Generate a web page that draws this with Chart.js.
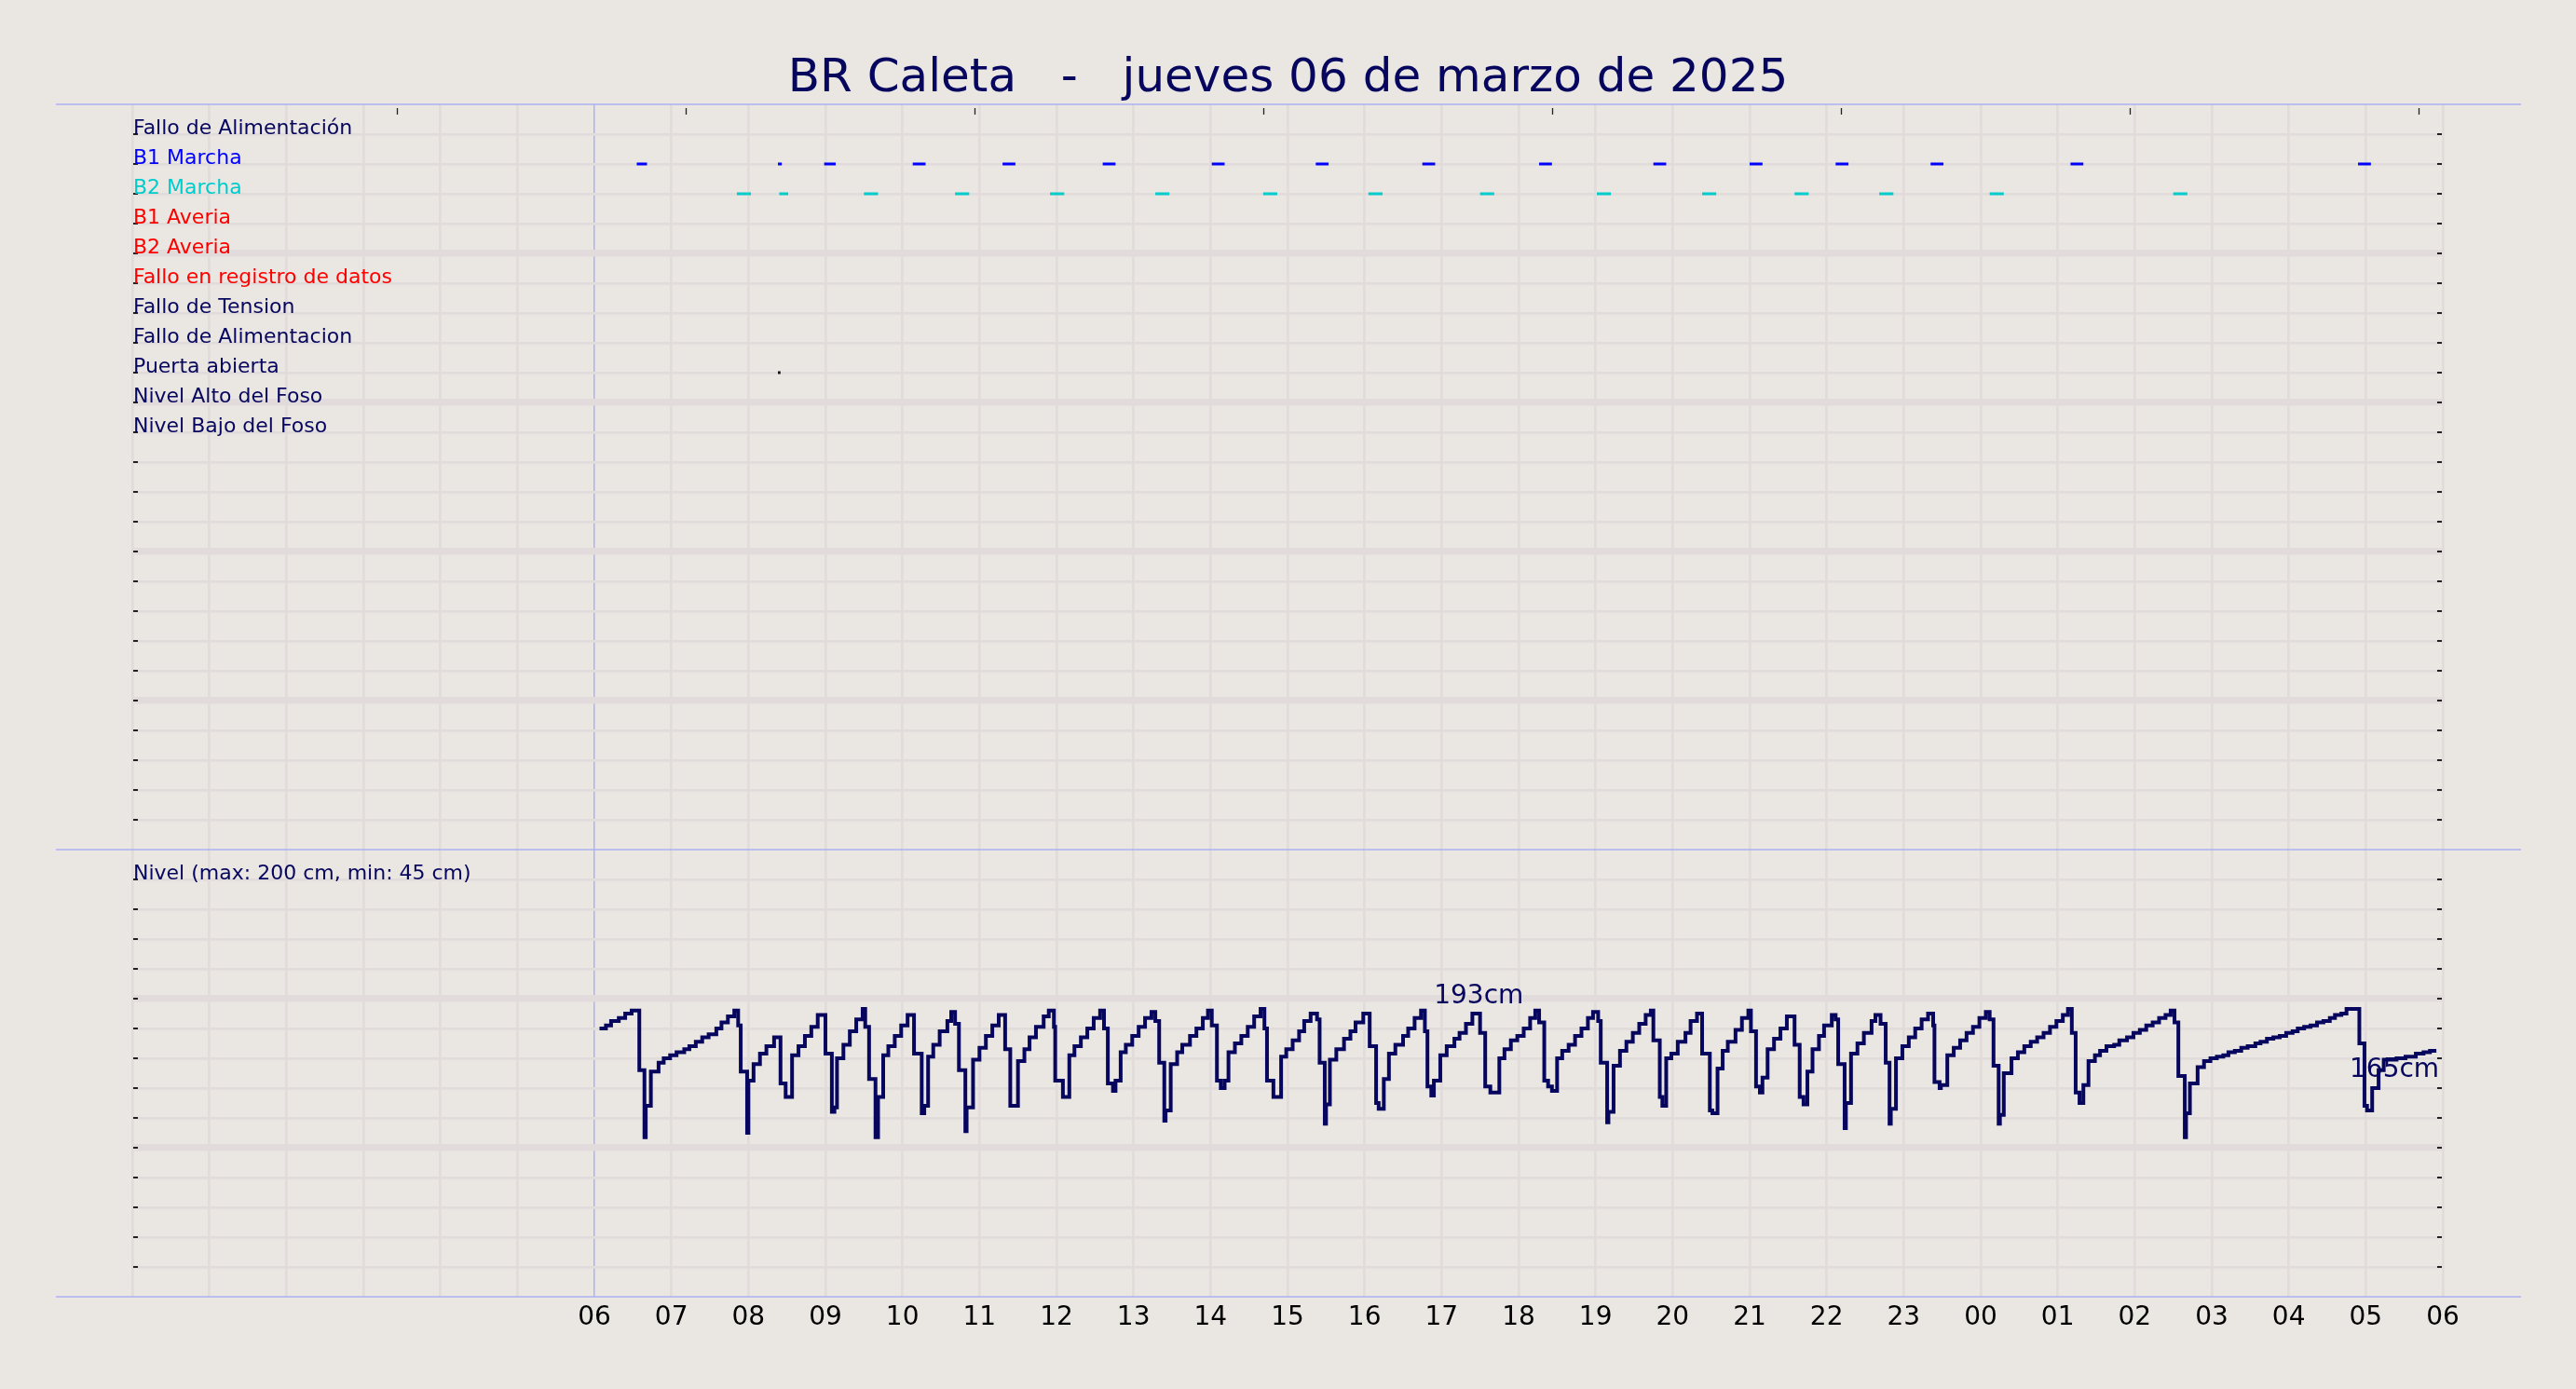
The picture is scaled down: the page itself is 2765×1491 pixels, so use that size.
<!DOCTYPE html>
<html>
<head>
<meta charset="utf-8">
<title>BR Caleta</title>
<script src="https://cdn.jsdelivr.net/npm/chart.js@4.4.1/dist/chart.umd.min.js"></script>
<style>
  html, body { margin: 0; padding: 0; background: #eae6e1; overflow: hidden; }
  #grafico { display: block; }
</style>
</head>
<body>
<canvas id="grafico" width="2765" height="1491"></canvas>
<script>
// ---- datos (minutos desde las 06:00) ----
const titulo = 'BR Caleta   -   jueves 06 de marzo de 2025';
const horas = ['06','07','08','09','10','11','12','13','14','15','16','17','18','19','20','21','22','23','00','01','02','03','04','05','06'];

const senales = ['Fallo de Alimentación', 'B1 Marcha', 'B2 Marcha', 'B1 Averia', 'B2 Averia',
  'Fallo en registro de datos', 'Fallo de Tension', 'Fallo de Alimentacion', 'Puerta abierta',
  'Nivel Alto del Foso', 'Nivel Bajo del Foso'];
const coloresSenal = ['#06065f', '#0000ff', '#00cccc', '#ff0000', '#ff0000', '#ff0000',
  '#06065f', '#06065f', '#06065f', '#06065f', '#06065f'];

const b1Inicio = [33, 143, 179, 248, 318, 396, 481, 562, 645, 736, 825, 900, 967, 1041, 1150, 1374];
const b1Fin    = [41, 146, 188, 258, 328, 406, 491, 572, 655, 746, 835, 910, 977, 1051, 1160, 1384];
const b2Inicio = [111, 144, 210, 281, 355, 437, 521, 603, 690, 781, 863, 935, 1001, 1087, 1230];
const b2Fin    = [122, 151, 221, 292, 366, 448, 532, 614, 701, 792, 874, 946, 1012, 1098, 1241];
const puertaInicio = [143];
const puertaFin    = [145];

const nivelMin = [
  4, 9, 13, 19, 24, 29, 35, 39, 40, 44, 50, 54, 59, 64, 70, 74, 79, 84, 89, 95,
  99, 104, 109, 112, 114, 119, 120, 124, 129, 134, 140, 145, 149, 154, 159, 164, 169, 174, 180, 185,
  187, 189, 194, 199, 204, 209, 211, 214, 219, 221, 225, 229, 234, 239, 244, 249, 255, 257, 260, 264,
  269, 275, 278, 281, 284, 289, 290, 295, 300, 305, 310, 315, 320, 324, 330, 335, 339, 344, 350, 354,
  358, 359, 365, 370, 374, 379, 384, 389, 394, 397, 400, 404, 406, 410, 414, 419, 424, 429, 434, 437,
  440, 444, 445, 449, 454, 458, 464, 469, 474, 478, 481, 485, 488, 491, 494, 499, 504, 509, 514, 519,
  522, 524, 529, 535, 539, 544, 549, 553, 558, 563, 565, 569, 570, 573, 578, 584, 589, 593, 599, 604,
  609, 611, 615, 619, 624, 630, 634, 639, 644, 647, 649, 652, 654, 659, 664, 670, 674, 679, 684, 690,
  694, 698, 705, 709, 714,
  719, 724, 729, 733, 736, 740, 743, 746, 750, 754, 759, 764, 769, 774, 778, 782, 784, 789, 790, 794,
  799, 804, 809, 814, 819, 823, 825, 830, 832, 835, 839, 844, 850, 854, 859, 863, 869, 871, 875, 879,
  883, 889, 894, 899, 901, 905, 908, 910, 914, 919, 924, 929, 935, 939, 942, 945, 949, 954, 958, 964,
  967, 969, 974, 975, 979, 984, 989, 995, 998, 1002, 1006, 1009, 1010, 1014, 1019, 1024, 1029, 1034, 1039, 1043,
  1044, 1048, 1049, 1054, 1059, 1064, 1069, 1074, 1079,
  1084, 1087, 1090, 1094, 1095, 1098, 1104, 1109, 1114, 1119, 1124, 1129, 1134, 1139, 1144, 1148, 1151, 1154, 1157, 1160,
  1164, 1169, 1173, 1178, 1184, 1188, 1194, 1199, 1204, 1209, 1214, 1219, 1224, 1228, 1231, 1234, 1239, 1240, 1243, 1249,
  1254, 1259, 1264, 1269, 1273, 1278, 1283, 1288, 1294, 1298, 1303, 1308, 1313, 1318, 1323, 1327, 1332, 1337, 1342, 1347,
  1352, 1356, 1361, 1365, 1375, 1379, 1381, 1385, 1390, 1394, 1404, 1411, 1419, 1425, 1430, 1435
];
const nivelCm = [
  180, 182, 185, 187, 190, 192, 152, 107, 128, 151, 157, 160, 162, 164, 166, 168, 171, 174, 176, 180,
  184, 188, 192, 182, 151, 110, 145, 156, 163, 168, 174, 143, 134, 162, 168, 175, 181, 189, 163, 124,
  127, 160, 169, 178, 186, 193, 181, 146, 107, 134, 162, 168, 175, 182, 189, 163, 123, 128, 161, 169,
  178, 185, 191, 183, 152, 111, 127, 159, 167, 175, 182, 189, 166, 128, 158, 166, 174, 181, 188, 192,
  181, 145, 134, 162, 168, 174, 180, 187, 192, 180, 143, 138, 145, 164, 169, 175, 181, 187, 191, 185,
  157, 118, 125, 156, 164, 169, 175, 180, 187, 192, 182, 145, 140, 145, 164, 170, 175, 181, 188, 193,
  180, 145, 134, 161, 166, 172, 178, 185, 190, 186, 157, 116, 129, 159, 166, 173, 178, 184, 190, 168,
  130, 126, 146, 163, 169, 175, 180, 187, 192, 178, 141, 135, 145, 162, 168, 173, 177, 183, 190, 177,
  141, 137, 160, 166, 172,
  175, 180, 187, 192, 184, 145, 141, 138, 160, 165, 169, 175, 180, 187, 191, 185, 157, 117, 124, 155,
  165, 171, 177, 183, 189, 192, 172, 134, 128, 160, 163, 171, 177, 185, 190, 163, 125, 123, 153, 165,
  171, 179, 187, 192, 178, 141, 137, 147, 166, 173, 180, 188, 169, 134, 129, 151, 166, 175, 182, 189,
  186, 156, 113, 130, 163, 170, 177, 185, 189, 183, 157, 116, 126, 160, 168, 174, 180, 186, 190, 182,
  144, 140, 142, 162, 167, 172, 177, 181, 187,
  191, 186, 155, 116, 122, 150, 160, 164, 168, 171, 174, 177, 181, 185, 189, 193, 177, 137, 130, 142,
  158, 162, 165, 168, 169, 172, 174, 177, 179, 182, 184, 187, 189, 192, 184, 148, 107, 123, 143, 154,
  158, 160, 161, 162, 164, 165, 167, 168, 170, 171, 173, 174, 175, 177, 178, 180, 181, 182, 184, 185,
  187, 189, 190, 193, 170, 128, 125, 140, 152, 159, 160, 161, 163, 164, 165, 165
];

const notaMin = [689, 1435];
const notaTexto = ['193cm', '165cm'];
const rotuloNivel = 'Nivel (max: 200 cm, min: 45 cm)';
const marcasSup = [-154, 71, 296, 521, 746, 971, 1196, 1421];

// ---- estilo ----
const FUENTE = '"DejaVu Sans", sans-serif';
const AZUL_OSCURO = '#06065f';
const REJILLA = '#e1dcdb';
const LINEA_AZUL = '#adb0f5';

function tramos(ini, fin, fila) {
  const pts = [];
  ini.forEach((s, i) => {
    pts.push({x: s, y: fila}, {x: fin[i], y: fila}, {x: fin[i], y: null});
  });
  return pts;
}

function valorEn(min) {
  let v = nivelCm[0];
  for (let i = 0; i < nivelMin.length; i++) {
    if (nivelMin[i] <= min) v = nivelCm[i];
  }
  return v;
}

const decorado = {
  id: 'decorado',
  afterDraw(chart) {
    const ctx = chart.ctx;
    const area = chart.chartArea;
    const x = chart.scales.x;
    const yE = chart.scales.yEvt;
    const yN = chart.scales.yNivel;

    ctx.save();
    // titulo
    ctx.fillStyle = AZUL_OSCURO;
    ctx.font = '50px ' + FUENTE;
    ctx.textAlign = 'center';
    ctx.textBaseline = 'alphabetic';
    ctx.fillText(titulo, chart.width / 2, 98);

    // lineas de marco
    ctx.strokeStyle = LINEA_AZUL;
    ctx.lineWidth = 1.5;
    [area.top, yE.bottom, area.bottom].forEach(yy => {
      ctx.beginPath();
      ctx.moveTo(area.left - 82, yy);
      ctx.lineTo(area.right + 84, yy);
      ctx.stroke();
    });

    // marcas hacia dentro en ambos lados
    ctx.strokeStyle = '#222';
    ctx.lineWidth = 2;
    [yE, yN].forEach(sc => {
      sc.ticks.forEach(t => {
        if (t.value === sc.min || t.value === sc.max) return;
        const py = Math.round(sc.getPixelForValue(t.value));
        ctx.beginPath();
        ctx.moveTo(area.left + 1, py); ctx.lineTo(area.left + 6, py);
        ctx.moveTo(area.right - 6, py); ctx.lineTo(area.right - 1, py);
        ctx.stroke();
      });
    });

    // marcas superiores
    ctx.lineWidth = 1.3;
    marcasSup.forEach(m => {
      const px = Math.round(x.getPixelForValue(m)) + 0.5;
      ctx.beginPath();
      ctx.moveTo(px, area.top + 4);
      ctx.lineTo(px, area.top + 11);
      ctx.stroke();
    });

    // nombres de senales
    ctx.font = '22px ' + FUENTE;
    ctx.textAlign = 'left';
    ctx.textBaseline = 'alphabetic';
    senales.forEach((s, i) => {
      ctx.fillStyle = coloresSenal[i];
      ctx.fillText(s, area.left + 1, yE.getPixelForValue(24 - i));
    });
    ctx.fillStyle = AZUL_OSCURO;
    ctx.fillText(rotuloNivel, area.left + 1, yN.getPixelForValue(280));

    // notas del nivel
    ctx.font = '28px ' + FUENTE;
    notaMin.forEach((m, i) => {
      const px = x.getPixelForValue(m);
      const py = yN.getPixelForValue(valorEn(m));
      if (i === 0) {
        ctx.textAlign = 'center';
        ctx.textBaseline = 'bottom';
        ctx.fillText(notaTexto[i], px, py - 4);
      } else {
        ctx.textAlign = 'right';
        ctx.textBaseline = 'top';
        ctx.fillText(notaTexto[i], px + 3, py + 7);
      }
    });
    ctx.restore();
  }
};

new Chart(document.getElementById('grafico'), {
  type: 'line',
  data: {
    datasets: [
      {
        label: 'Nivel',
        data: nivelMin.map((m, i) => ({x: m, y: nivelCm[i]})),
        yAxisID: 'yNivel',
        stepped: true,
        borderColor: AZUL_OSCURO,
        borderWidth: 4,
        borderJoinStyle: 'miter',
        pointRadius: 0
      },
      {
        label: 'B1 Marcha',
        data: tramos(b1Inicio, b1Fin, 23),
        yAxisID: 'yEvt',
        borderColor: '#0000ff',
        borderWidth: 3,
        borderCapStyle: 'butt',
        pointRadius: 0
      },
      {
        label: 'B2 Marcha',
        data: tramos(b2Inicio, b2Fin, 22),
        yAxisID: 'yEvt',
        borderColor: '#00cccc',
        borderWidth: 3,
        borderCapStyle: 'butt',
        pointRadius: 0
      },
      {
        label: 'Puerta abierta',
        data: tramos(puertaInicio, puertaFin, 16),
        yAxisID: 'yEvt',
        borderColor: '#111111',
        borderWidth: 3,
        borderCapStyle: 'butt',
        pointRadius: 0
      }
    ]
  },
  options: {
    responsive: false,
    animation: false,
    devicePixelRatio: 1,
    events: [],
    layout: { padding: { left: 142, right: 143, top: 112, bottom: 53.5 } },
    plugins: { legend: { display: false }, tooltip: { enabled: false }, title: { display: false } },
    scales: {
      x: {
        type: 'linear',
        position: 'bottom',
        min: -360,
        max: 1440,
        border: { display: false },
        grid: {
          drawTicks: false,
          color: c => (c.tick && c.tick.value === 0) ? LINEA_AZUL : REJILLA,
          lineWidth: c => (c.tick && c.tick.value === 0) ? 1.5 : 2.7
        },
        ticks: {
          stepSize: 60,
          autoSkip: false,
          maxRotation: 0,
          padding: 6,
          color: '#000',
          font: { family: FUENTE, size: 28 },
          callback: v => v < 0 ? '' : horas[Math.round(v / 60)]
        }
      },
      yNivel: {
        type: 'linear',
        position: 'left',
        stack: 'paneles',
        stackWeight: 15,
        min: 0,
        max: 300,
        border: { display: false },
        ticks: { display: false, stepSize: 20 },
        grid: {
          drawTicks: false,
          color: REJILLA,
          lineWidth: c => {
            const v = c.tick ? c.tick.value : 0;
            if (v === 0 || v === 300) return 0;
            return v % 100 === 0 ? 7.5 : 2.7;
          }
        }
      },
      yEvt: {
        type: 'linear',
        position: 'left',
        stack: 'paneles',
        stackWeight: 25,
        min: 0,
        max: 25,
        border: { display: false },
        ticks: { display: false, stepSize: 1 },
        grid: {
          drawTicks: false,
          color: REJILLA,
          lineWidth: c => {
            const v = c.tick ? c.tick.value : 0;
            if (v === 0 || v === 25) return 0;
            return v % 5 === 0 ? 7.5 : 2.7;
          }
        }
      }
    }
  },
  plugins: [decorado]
});
</script>
</body>
</html>
